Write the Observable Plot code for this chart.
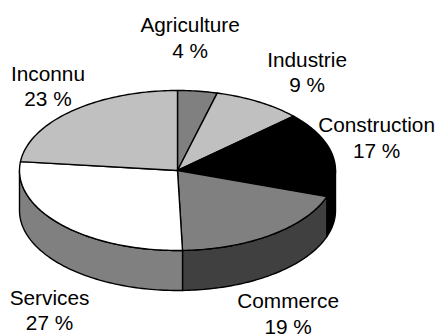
<!DOCTYPE html>
<html>
<head>
<meta charset="utf-8">
<script src="https://cdn.jsdelivr.net/npm/d3@7"></script>
<script src="https://cdn.jsdelivr.net/npm/@observablehq/plot@0.6"></script>
<style>html,body{margin:0;padding:0;background:#fff}svg{display:block}</style>
</head>
<body>
<div id="chart"></div>
<script>
const sectors = ["Agriculture", "Industrie", "Construction", "Commerce", "Services", "Inconnu"];
const shares = [4, 9, 17, 19, 27, 23];
const topColors = ["#808080", "#c0c0c0", "#000000", "#808080", "#ffffff", "#c0c0c0"];
const sideColors = ["#404040", "#404040", "#000000", "#404040", "#808080", "#808080"];
// label anchors, in pie radii
const labelX = [0.08, 0.82, 1.26, 0.70, -0.81, -0.82];
const labelY = [1.67, 1.24, 0.42, -1.78, -1.74, 1.065];
const depth = 0.5;

const total = d3.sum(shares);
const cum = d3.cumsum(shares);
const slices = sectors.map((name, i) => ({
  name,
  a0: ((i ? cum[i - 1] : 0) / total) * 2 * Math.PI,
  a1: (cum[i] / total) * 2 * Math.PI,
  top: topColors[i],
  side: sideColors[i]
}));

const arc = (a0, a1) => {
  const n = Math.max(2, Math.ceil((a1 - a0) / 0.02));
  return d3.range(n + 1).map(k => a0 + (a1 - a0) * k / n);
};

const topPts = slices.flatMap(s => [
  {z: s.name, fill: s.top, x: 0, y: 0},
  ...arc(s.a0, s.a1).map(a => ({z: s.name, fill: s.top, x: Math.sin(a), y: Math.cos(a)}))
]);

// only the front half of the rim (90° to 270°) is visible
const sidePts = slices.flatMap(s => {
  const a0 = Math.max(s.a0, Math.PI / 2), a1 = Math.min(s.a1, 3 * Math.PI / 2);
  if (a1 <= a0) return [];
  const as = arc(a0, a1);
  const front = as.map(a => ({z: s.name, fill: s.side, x: Math.sin(a), y: Math.cos(a)}));
  const back = as.slice().reverse().map(a => ({z: s.name, fill: s.side, x: Math.sin(a), y: Math.cos(a) - depth}));
  return [...front, ...back];
});

const labels = sectors.map((name, i) => ({
  x: labelX[i], y: labelY[i], text: `${name}\n${shares[i]} %`
}));

const lineOpts = {x: "x", y: "y", z: "z", fill: "fill", stroke: "#000", strokeWidth: 1.4, curve: "linear-closed", strokeLinejoin: "round"};

const chart = Plot.plot({
  width: 437,
  height: 334,
  margin: 0,
  style: {background: "#fff", overflow: "visible"},
  x: {domain: [-1, 1], range: [19, 335], axis: null},
  y: {domain: [-1, 1], range: [250, 90], axis: null},
  marks: [
    Plot.line(sidePts, lineOpts),
    Plot.line(topPts, lineOpts),
    Plot.text(labels, {
      x: "x", y: "y", text: "text",
      fontFamily: "Liberation Sans, Arial, sans-serif",
      fontSize: 20.8, lineHeight: 1.22, fill: "#000"
    })
  ]
});
document.getElementById("chart").appendChild(chart);
</script>
</body>
</html>
